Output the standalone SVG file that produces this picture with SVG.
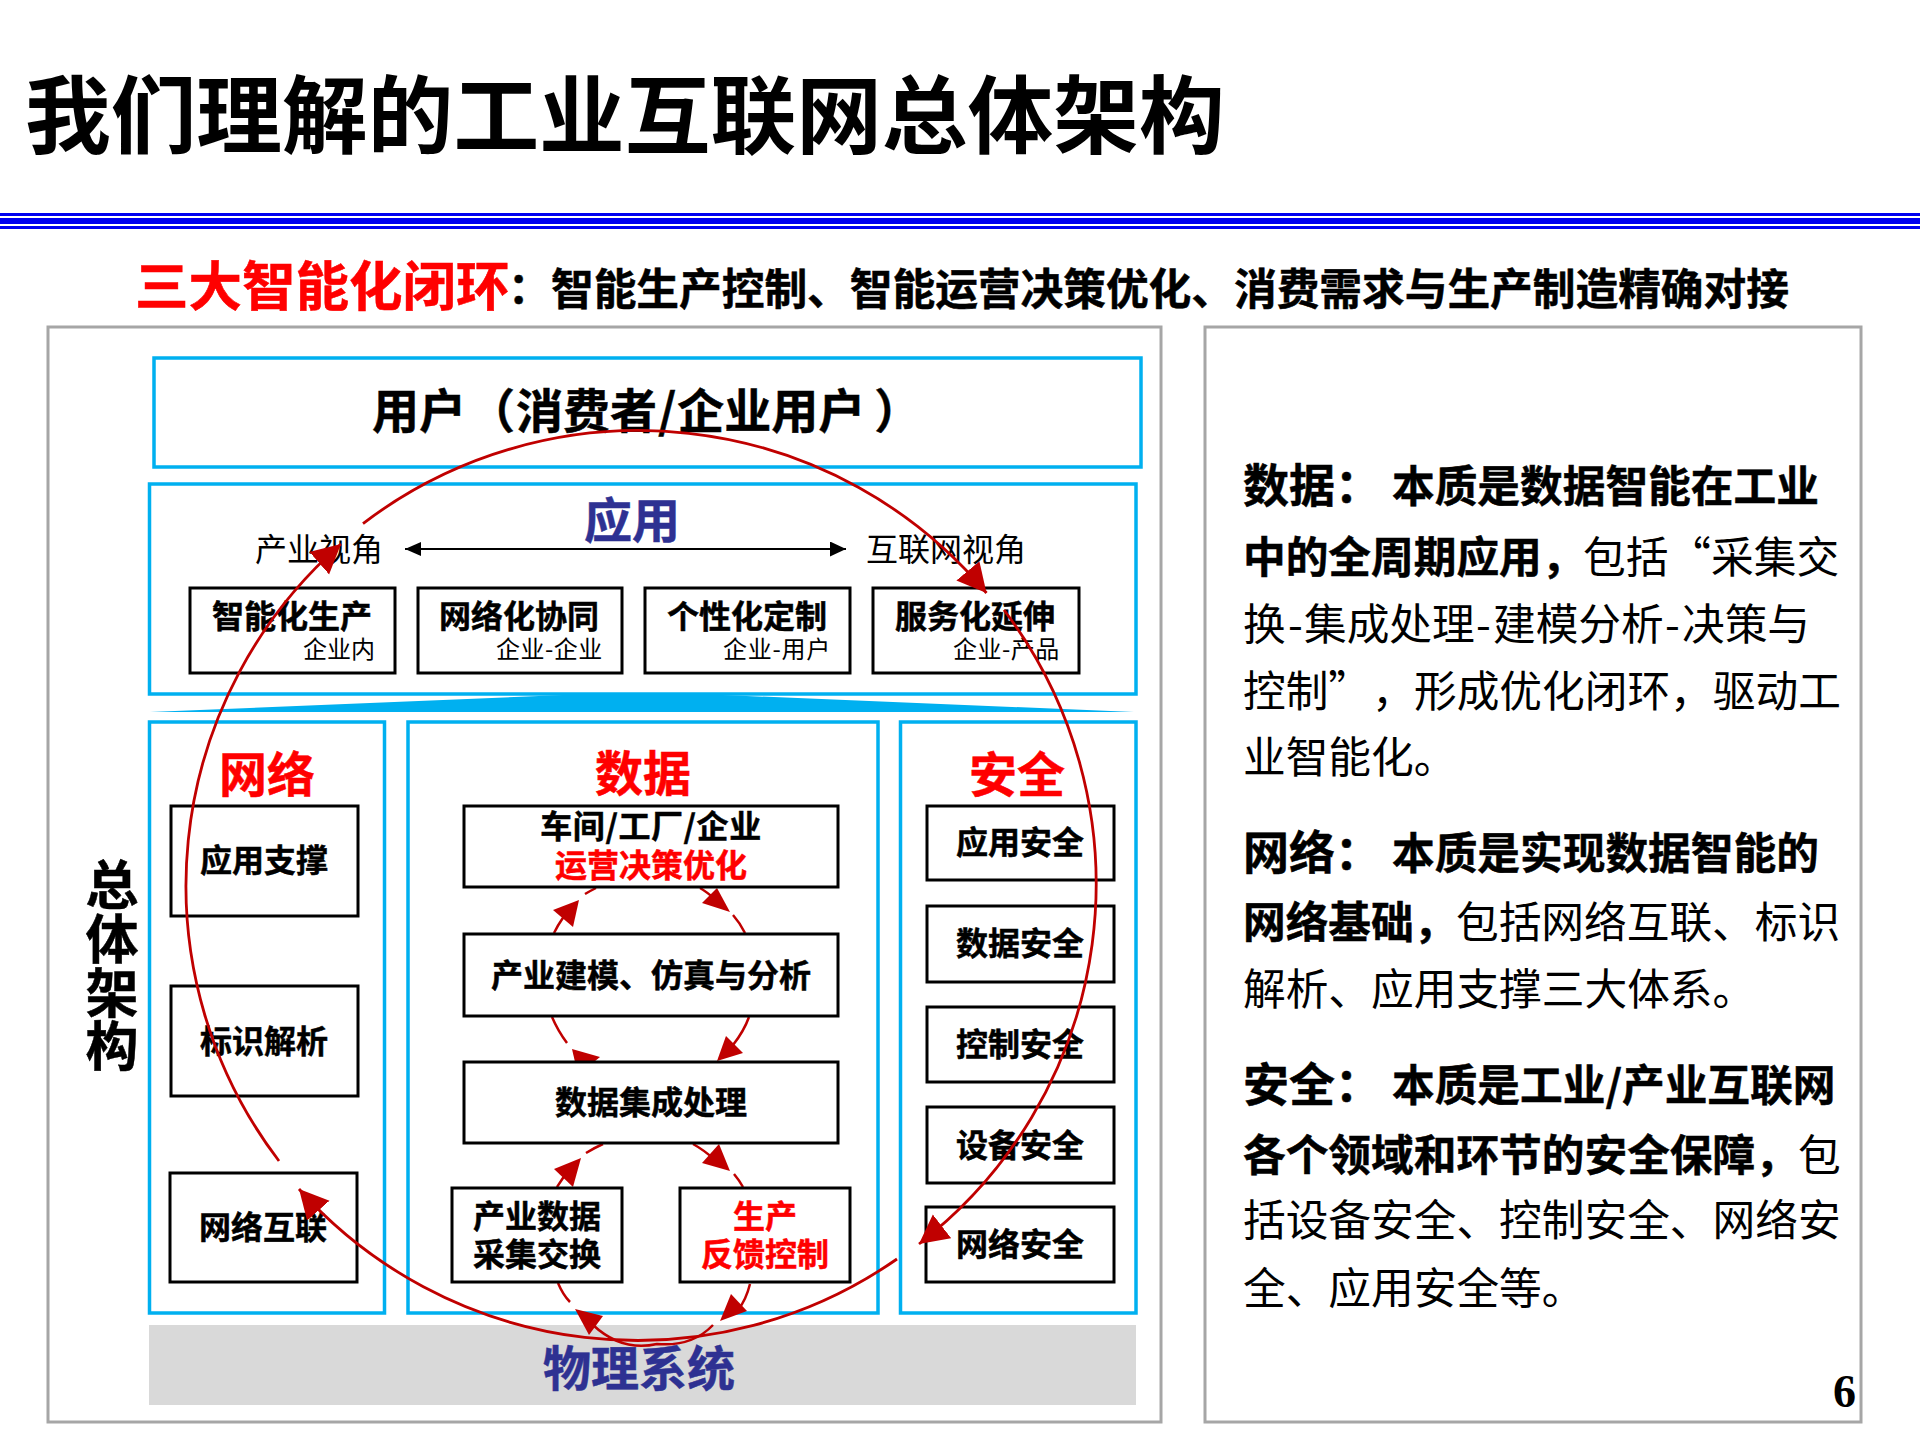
<svg xmlns="http://www.w3.org/2000/svg" width="1920" height="1440" viewBox="0 0 1920 1440">
<style>
text{font-family:"Noto Sans CJK SC","Noto Sans",sans-serif;fill:#000}
.b{font-weight:700;stroke:#000;stroke-width:.5}
.r{font-weight:400}
.red{fill:#f00;stroke:#f00}
.navy{fill:#2E3192;stroke:#2E3192}
.m{text-anchor:middle}
.t32{font-size:32px}
.t48{font-size:48px}
.t24{font-size:24px}
.frame{fill:none;stroke:#00B0F0;stroke-width:3.5}
.box{fill:#fff;stroke:#000;stroke-width:3}
.panel{fill:#fff;stroke:#A6A6A6;stroke-width:3}
.big{fill:none;stroke:#C00000;stroke-width:2.8;marker-end:url(#bigHead)}
.small{fill:none;stroke:#C00000;stroke-width:2.5}
.head{fill:#C00000}
.rt{font-size:42.7px}
.hd{font-size:46px}
</style>
<defs>
<marker id="bigHead" markerUnits="userSpaceOnUse" markerWidth="32" markerHeight="32" refX="29" refY="15" orient="auto"><path d="M0,0L29,15L0,30Z" fill="#C00000"/></marker>
<marker id="blk" markerUnits="userSpaceOnUse" markerWidth="18" markerHeight="16" refX="16" refY="7.5" orient="auto"><path d="M0,0L16,7.5L0,15Z" fill="#000"/></marker>
</defs>
<rect width="1920" height="1440" fill="#fff"/>
<text id="title" x="25" y="147" font-size="85.7" style="font-weight:700">我们理解的工业互联网总体架构</text>
<g id="rule" fill="#0000F0">
<rect x="0" y="213" width="1920" height="3"/>
<rect x="0" y="218" width="1920" height="6"/>
<rect x="0" y="226" width="1920" height="3"/>
</g>
<g id="subtitle">
<text class="b red" x="135" y="306" font-size="53.5">三大智能化闭环</text>
<text class="b" x="508" y="304" font-size="42.7">：</text>
<text class="b" x="551" y="305" font-size="42.7">智能生产控制、智能运营决策优化、消费需求与生产制造精确对接</text>
</g>
<rect id="left-panel" class="panel" x="48" y="327" width="1113" height="1095"/>
<rect id="right-panel" class="panel" x="1205" y="327" width="656" height="1095"/>
<g id="user"><rect class="frame" x="154" y="358" width="987" height="109"/>
<text class="b" x="372" y="428" font-size="47">用户<tspan dx="2">（</tspan><tspan dx="1">消费者</tspan><tspan dx="1">/</tspan><tspan dx="1">企业用户</tspan><tspan dx="9">）</tspan></text></g>
<g id="frames">
<rect class="frame" x="149.5" y="484" width="986.5" height="210"/>
<path id="wedge" d="M150,712L563,695L723,695L1134,712Z" fill="#00B0F0"/>
<rect class="frame" x="149.5" y="722" width="235" height="591"/>
<rect class="frame" x="408" y="722" width="470" height="591"/>
<rect class="frame" x="900.5" y="722" width="235.5" height="591"/>
<rect id="physical" x="149" y="1325" width="987" height="80" fill="#D9D9D9"/>
</g>
<g id="small-connectors">
<path class="small" d="M554,933Q562,917 570,910"/><path class="small" d="M585,894Q590,891 596,888"/>
<path class="head" d="M579,900L553,910L573,927Z"/>
<path class="small" d="M700,888Q707,892 716,900"/><path class="small" d="M733,915Q740,923 745,933"/>
<path class="head" d="M730,912L702,903L717,888Z"/>
<path class="small" d="M552,1017Q558,1031 567,1043"/>
<path class="head" d="M600,1057L572,1049L578,1075Z"/>
<path class="small" d="M749,1017Q744,1031 733,1045"/>
<path class="head" d="M717,1061L726,1036L743,1053Z"/>
<path class="small" d="M603,1144Q594,1148 586,1153"/><path class="small" d="M570,1170Q562,1178 557,1187"/>
<path class="head" d="M581,1158L554,1169L573,1187Z"/>
<path class="small" d="M693,1144Q704,1150 715,1160"/><path class="small" d="M734,1174Q739,1180 743,1187"/>
<path class="head" d="M730,1171L702,1163L719,1144Z"/>
<path class="small" d="M558,1283Q563,1295 570,1302"/>
<path class="small" d="M593,1325Q622,1352 657,1344Q692,1347 713,1325"/>
<path class="head" d="M589,1335L575,1309L603,1316Z"/>
<path class="small" d="M750,1284Q746,1300 738,1310"/>
<path class="head" d="M720,1321L731,1294L747,1311Z"/>
</g>
<g id="app">
<text class="b navy m t48" x="632" y="538">应用</text>
<text class="r t32" x="255" y="561">产业视角</text>
<text class="r t32" x="866" y="561">互联网视角</text>
<path d="M405,549L846,549" stroke="#000" stroke-width="2" fill="none" marker-end="url(#blk)"/>
<path d="M405,549L421,542V556Z" fill="#000"/>
</g>
<g id="n-zhineng"><rect class="box" x="190" y="588" width="205" height="85"/><text class="b t32" x="212" y="628">智能化生产</text><text class="r t24" x="303" y="658">企业内</text></g>
<g id="n-xietong"><rect class="box" x="418" y="588" width="204" height="85"/><text class="b t32" x="439" y="628">网络化协同</text><text class="r t24" x="496" y="658" letter-spacing=".5">企业-企业</text></g>
<g id="n-dingzhi"><rect class="box" x="645" y="588" width="205" height="85"/><text class="b t32" x="667" y="628">个性化定制</text><text class="r t24" x="723" y="658" letter-spacing=".7">企业-用户</text></g>
<g id="n-fuwu"><rect class="box" x="873" y="588" width="206" height="85"/><text class="b t32" x="895" y="628">服务化延伸</text><text class="r t24" x="953" y="658" letter-spacing=".5">企业-产品</text></g>
<g id="headers">
<text class="b red m t48" x="267" y="792">网络</text>
<text class="b red m t48" x="643" y="791">数据</text>
<text class="b red m t48" x="1017" y="792">安全</text>
</g>
<g id="n-a"><rect class="box" x="171" y="806" width="187" height="110"/><text class="b t32 m" x="264" y="872">应用支撑</text></g>
<g id="n-b"><rect class="box" x="171" y="986" width="187" height="110"/><text class="b t32 m" x="264" y="1053">标识解析</text></g>
<g id="n-c"><rect class="box" x="170" y="1173" width="187" height="109"/><text class="b t32 m" x="263" y="1239">网络互联</text></g>
<g id="d-a"><rect class="box" x="464" y="806" width="374" height="81"/><text class="b t32 m" x="651" y="838" letter-spacing=".6">车间/工厂/企业</text><text class="b t32 m red" x="651" y="877">运营决策优化</text></g>
<g id="d-b"><rect class="box" x="464" y="934" width="374" height="82"/><text class="b t32 m" x="651" y="987">产业建模、仿真与分析</text></g>
<g id="d-c"><rect class="box" x="464" y="1062" width="374" height="81"/><text class="b t32 m" x="651" y="1114">数据集成处理</text></g>
<g id="d-d"><rect class="box" x="452" y="1188" width="170" height="94"/><text class="b t32 m" x="537" y="1228">产业数据</text><text class="b t32 m" x="537" y="1266">采集交换</text></g>
<g id="d-e"><rect class="box" x="680" y="1188" width="170" height="94"/><text class="b t32 m red" x="765" y="1228">生产</text><text class="b t32 m red" x="765" y="1266">反馈控制</text></g>
<g id="s-a"><rect class="box" x="927" y="806" width="187" height="74"/><text class="b t32 m" x="1020" y="854">应用安全</text></g>
<g id="s-b"><rect class="box" x="927" y="906" width="187" height="76"/><text class="b t32 m" x="1020" y="955">数据安全</text></g>
<g id="s-c"><rect class="box" x="927" y="1007" width="187" height="75"/><text class="b t32 m" x="1020" y="1056">控制安全</text></g>
<g id="s-d"><rect class="box" x="927" y="1107" width="187" height="76"/><text class="b t32 m" x="1020" y="1157">设备安全</text></g>
<g id="s-e"><rect class="box" x="926" y="1207" width="188" height="75"/><text class="b t32 m" x="1020" y="1256">网络安全</text></g>
<text id="side" class="b m" x="112" font-size="53" y="905"><tspan x="112">总</tspan><tspan x="112" dy="54">体</tspan><tspan x="112" dy="54">架</tspan><tspan x="112" dy="53">构</tspan></text>
<text id="phys" class="b navy m t48" x="639" y="1386">物理系统</text>
<g id="loop">
<path class="big" d="M363,523.6A454,454 0 0 1 986.5,593"/>
<path class="big" d="M1004,610A454,454 0 0 1 919,1244"/>
<path class="big" d="M897,1259A454,454 0 0 1 299,1189"/>
<path class="big" d="M279,1161A454,454 0 0 1 341,544"/>
</g>
<g id="notes">
<text class="b hd" x="1243" y="502">数据：</text>
<text class="rt b" x="1392" y="502">本质是数据智能在工业</text>
<text class="rt b" x="1243" y="573">中的全周期应用，</text>
<text class="rt r" x="1583" y="573">包括“采集交</text>
<text class="rt r" x="1243" y="640">换<tspan x="1288">-</tspan><tspan x="1304">集成处理</tspan><tspan x="1476">-</tspan><tspan x="1493">建模分析</tspan><tspan x="1665">-</tspan><tspan x="1682">决策与</tspan></text>
<text class="rt r" x="1243" y="707">控制”<tspan x="1372">，</tspan><tspan x="1414">形成优化闭环，驱动工</tspan></text>
<text class="rt r" x="1243" y="773">业智能化。</text>
<text class="b hd" x="1243" y="869">网络：</text>
<text class="rt b" x="1392" y="869">本质是实现数据智能的</text>
<text class="rt b" x="1243" y="938">网络基础，</text>
<text class="rt r" x="1456" y="938">包括网络互联、标识</text>
<text class="rt r" x="1243" y="1005">解析、应用支撑三大体系。</text>
<text class="b hd" x="1243" y="1101">安全：</text>
<text class="rt b" x="1392" y="1101">本质是工业/产业互联网</text>
<text class="rt b" x="1243" y="1171">各个领域和环节的安全保障，</text>
<text class="rt r" x="1798" y="1171">包</text>
<text class="rt r" x="1243" y="1236">括设备安全、控制安全、网络安</text>
<text class="rt r" x="1243" y="1304">全、应用安全等。</text>
</g>
<text id="page" x="1833" y="1407" font-size="46" style="font-family:'Liberation Serif',serif;font-weight:700">6</text>
</svg>
